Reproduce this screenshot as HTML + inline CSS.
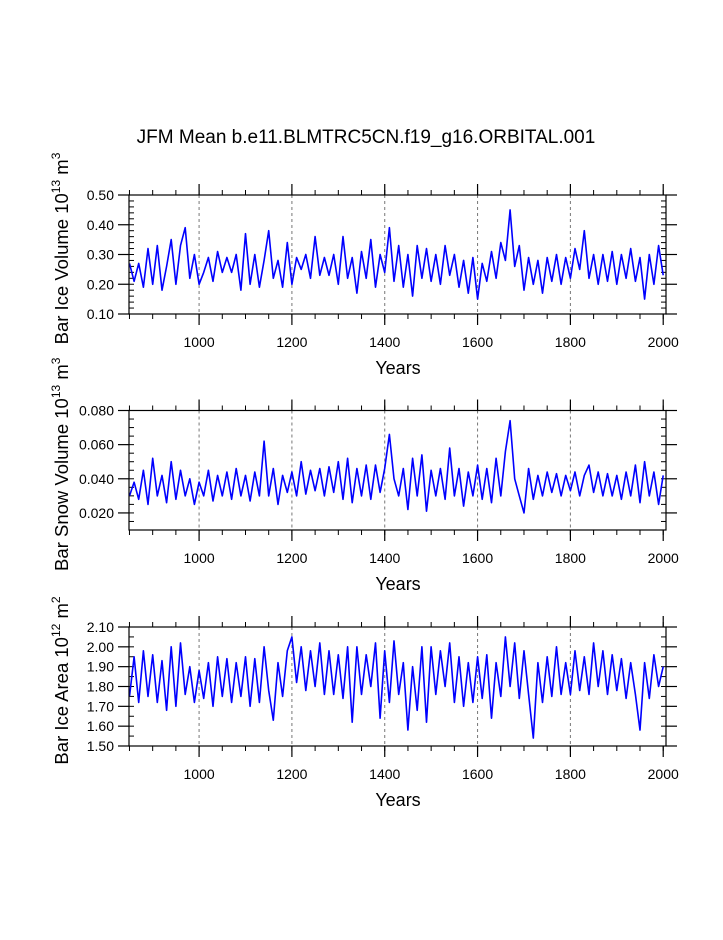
<!DOCTYPE html>
<html><head><meta charset="utf-8"><style>
body{margin:0;background:#fff;}
svg text{font-family:"Liberation Sans",sans-serif;fill:#000;}
</style></head><body>
<svg id="chart" width="723" height="935" xmlns="http://www.w3.org/2000/svg">
<text x="366" y="143" font-size="19" text-anchor="middle">JFM Mean b.e11.BLMTRC5CN.f19_g16.ORBITAL.001</text>
</svg>
<script>
const years = [];
for (let y = 850; y <= 2000; y += 10) years.push(y);
const xTicks = [1000, 1200, 1400, 1600, 1800, 2000];
const iceVolume = [0.27,0.21,0.27,0.19,0.32,0.20,0.33,0.18,0.26,0.35,0.20,0.33,0.39,0.22,0.30,0.20,0.24,0.29,0.21,0.31,0.24,0.29,0.24,0.30,0.18,0.37,0.20,0.30,0.19,0.28,0.38,0.22,0.28,0.19,0.34,0.20,0.29,0.25,0.30,0.22,0.36,0.23,0.29,0.23,0.30,0.20,0.36,0.22,0.29,0.17,0.31,0.22,0.35,0.19,0.30,0.24,0.39,0.21,0.33,0.19,0.30,0.16,0.33,0.22,0.32,0.21,0.30,0.20,0.33,0.23,0.30,0.19,0.28,0.17,0.29,0.15,0.27,0.21,0.31,0.22,0.34,0.28,0.45,0.26,0.33,0.18,0.29,0.20,0.28,0.17,0.29,0.21,0.30,0.20,0.29,0.22,0.32,0.25,0.38,0.22,0.30,0.20,0.30,0.21,0.31,0.20,0.30,0.22,0.32,0.21,0.29,0.15,0.30,0.20,0.33,0.23];
const snowVolume = [0.030,0.038,0.028,0.045,0.025,0.052,0.030,0.042,0.026,0.050,0.028,0.045,0.030,0.040,0.025,0.038,0.030,0.045,0.027,0.042,0.030,0.044,0.028,0.046,0.030,0.042,0.027,0.044,0.030,0.062,0.030,0.046,0.025,0.042,0.032,0.044,0.030,0.050,0.031,0.045,0.033,0.046,0.030,0.047,0.032,0.050,0.028,0.052,0.026,0.046,0.030,0.048,0.028,0.048,0.032,0.046,0.066,0.040,0.030,0.046,0.022,0.052,0.030,0.054,0.021,0.045,0.030,0.046,0.028,0.058,0.030,0.046,0.024,0.044,0.030,0.048,0.028,0.046,0.026,0.052,0.030,0.056,0.074,0.040,0.030,0.020,0.046,0.028,0.042,0.030,0.044,0.032,0.043,0.030,0.042,0.033,0.044,0.030,0.042,0.048,0.032,0.044,0.030,0.043,0.030,0.042,0.028,0.044,0.030,0.048,0.026,0.050,0.030,0.044,0.025,0.042];
const iceArea = [1.75,1.95,1.72,1.98,1.75,1.96,1.72,1.93,1.68,2.00,1.70,2.02,1.76,1.90,1.72,1.88,1.74,1.92,1.70,1.95,1.75,1.94,1.72,1.92,1.75,1.95,1.70,1.94,1.72,2.00,1.78,1.63,1.92,1.75,1.98,2.05,1.82,2.00,1.78,1.98,1.80,2.02,1.76,1.98,1.76,1.96,1.74,2.00,1.62,2.00,1.76,1.96,1.80,2.02,1.64,1.98,1.72,2.03,1.76,1.92,1.58,1.90,1.68,2.00,1.62,2.00,1.76,1.98,1.80,2.02,1.72,1.95,1.70,1.92,1.72,1.95,1.74,1.96,1.64,1.92,1.75,2.05,1.80,2.02,1.74,1.98,1.76,1.54,1.92,1.72,1.95,1.75,2.00,1.76,1.92,1.76,1.98,1.78,1.95,1.76,2.02,1.80,1.98,1.76,1.96,1.78,1.94,1.74,1.92,1.76,1.58,1.92,1.74,1.96,1.80,1.90];
const ticks1 = ["0.10","0.20","0.30","0.40","0.50"];
const ticks2 = ["0.020","0.040","0.060","0.080"];
const ticks3 = ["1.50","1.60","1.70","1.80","1.90","2.00","2.10"];

const NS = "http://www.w3.org/2000/svg";
const svg = document.getElementById("chart");
const L = 129, R = 666, X0 = 849, X1 = 2006;
function xs(v){ return L + (v - X0) / (X1 - X0) * (R - L); }
function mk(tag, attrs, parent){
  const e = document.createElementNS(NS, tag);
  for (const k in attrs) e.setAttribute(k, attrs[k]);
  (parent || svg).appendChild(e);
  return e;
}
function panel(name, top, bot, ymin, ymax, minorStep, tickLabels, values, titleMain, sup, unit){
  const g = mk("g", {});
  
  
  function ys(v){ return bot - (v - ymin) / (ymax - ymin) * (bot - top); }
  for (const t of [1000,1200,1400,1600,1800]) {
    const l = mk("line", {x1: xs(t), x2: xs(t), y1: top, y2: bot, stroke: "#777", "stroke-dasharray": "3,3", "stroke-width": 1}, g);
    
    
  }
  for (let t = 850; t <= 2000; t += 50) {
    mk("line", {x1: xs(t), x2: xs(t), y1: top, y2: top - 5, stroke: "#000"}, g);
    mk("line", {x1: xs(t), x2: xs(t), y1: bot, y2: bot + 5, stroke: "#000"}, g);
  }
  for (const t of xTicks) {
    mk("line", {x1: xs(t), x2: xs(t), y1: top, y2: top - 11, stroke: "#000", "stroke-width": 1.2}, g);
    mk("line", {x1: xs(t), x2: xs(t), y1: bot, y2: bot + 11, stroke: "#000", "stroke-width": 1.2}, g);
    const tx = mk("text", {x: xs(t), y: bot + 33, "font-size": 14, "text-anchor": "middle"}, g);
    tx.textContent = t;
    
    
  }
  for (let v = ymin; v <= ymax + 1e-9; v += minorStep) {
    mk("line", {x1: L, x2: L + 5, y1: ys(v), y2: ys(v), stroke: "#000"}, g);
    mk("line", {x1: R, x2: R - 5, y1: ys(v), y2: ys(v), stroke: "#000"}, g);
  }
  for (const lab of tickLabels) {
    const v = parseFloat(lab);
    mk("line", {x1: L - 11, x2: L, y1: ys(v), y2: ys(v), stroke: "#000", "stroke-width": 1.2}, g);
    mk("line", {x1: R, x2: R + 11, y1: ys(v), y2: ys(v), stroke: "#000", "stroke-width": 1.2}, g);
    const tx = mk("text", {x: L - 15, y: ys(v) + 5, "font-size": 14, "text-anchor": "end"}, g);
    tx.textContent = lab;
    
    
  }
  const d = values.map((v, i) => (i ? "L" : "M") + xs(years[i]).toFixed(1) + "," + ys(v).toFixed(1)).join("");
  const p = mk("path", {d: d, fill: "none", stroke: "#0000ff", "stroke-width": 1.6, "stroke-linejoin": "round"}, g);
  
  
  const fr = mk("rect", {x: L, y: top, width: R - L, height: bot - top, fill: "none", stroke: "#000", "stroke-width": 1.2}, g);
  
  
  const xt = mk("text", {x: 398, y: bot + 60, "font-size": 18, "text-anchor": "middle"}, g);
  xt.textContent = "Years";
  
  
  const cy = (top + bot) / 2 - 6;
  const yt = mk("text", {x: 0, y: 0, "font-size": 18.5, "text-anchor": "middle", transform: "translate(68," + cy + ") rotate(-90)"}, g);
  
  
  const s1 = mk("tspan", {}, yt); s1.textContent = titleMain + " 10";
  const s2 = mk("tspan", {dy: -8, "font-size": 12}, yt); s2.textContent = sup;
  const s3 = mk("tspan", {dy: 8}, yt); s3.textContent = " m";
  const s4 = mk("tspan", {dy: -8, "font-size": 12}, yt); s4.textContent = unit;
}
panel("ice-volume", 195, 314, 0.10, 0.50, 0.02, ticks1, iceVolume, "Bar Ice Volume", "13", "3");
panel("snow-volume", 410.5, 530, 0.010, 0.080, 0.005, ticks2, snowVolume, "Bar Snow Volume", "13", "3");
panel("ice-area", 627, 746, 1.50, 2.10, 0.05, ticks3, iceArea, "Bar Ice Area", "12", "2");
</script>
</body></html>
